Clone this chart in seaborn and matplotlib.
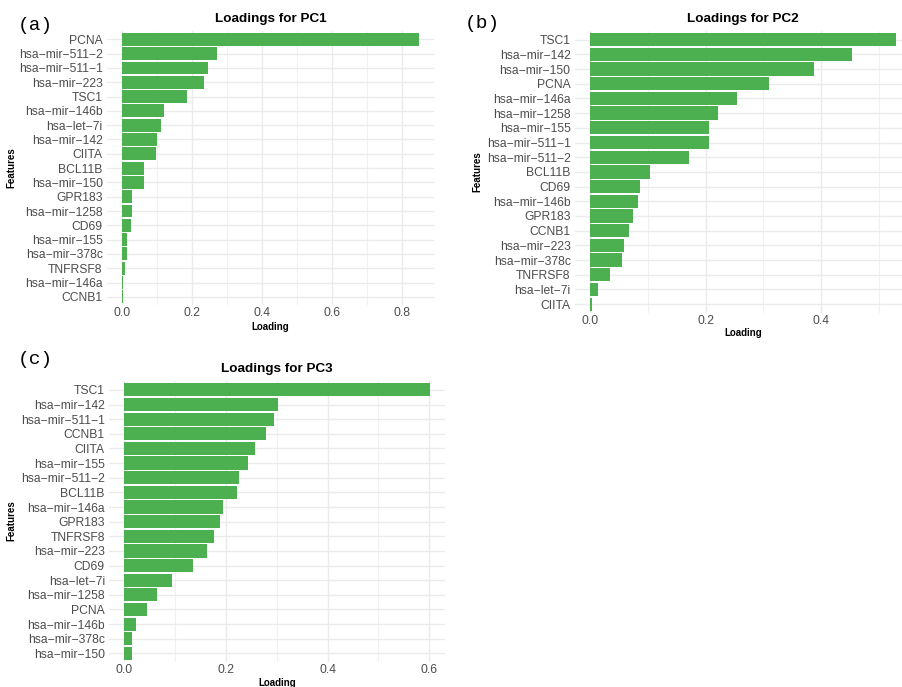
import matplotlib
matplotlib.use("Agg")
import matplotlib.pyplot as plt
import seaborn as sns
import pandas as pd
import numpy as np

# ---------------- data ----------------
pc1_features = ["PCNA", "hsa-mir-511-2", "hsa-mir-511-1", "hsa-mir-223", "TSC1",
                "hsa-mir-146b", "hsa-let-7i", "hsa-mir-142", "CIITA", "BCL11B",
                "hsa-mir-150", "GPR183", "hsa-mir-1258", "CD69", "hsa-mir-155",
                "hsa-mir-378c", "TNFRSF8", "hsa-mir-146a", "CCNB1"]
pc1_values = [0.850, 0.271, 0.248, 0.234, 0.186, 0.120, 0.113, 0.100, 0.098, 0.064,
              0.064, 0.030, 0.029, 0.027, 0.014, 0.014, 0.010, 0.004, 0.003]

pc2_features = ["TSC1", "hsa-mir-142", "hsa-mir-150", "PCNA", "hsa-mir-146a",
                "hsa-mir-1258", "hsa-mir-155", "hsa-mir-511-1", "hsa-mir-511-2",
                "BCL11B", "CD69", "hsa-mir-146b", "GPR183", "CCNB1", "hsa-mir-223",
                "hsa-mir-378c", "TNFRSF8", "hsa-let-7i", "CIITA"]
pc2_values = [0.529, 0.454, 0.387, 0.309, 0.254, 0.222, 0.206, 0.206, 0.172, 0.103,
              0.087, 0.083, 0.074, 0.067, 0.059, 0.055, 0.034, 0.014, 0.004]

pc3_features = ["TSC1", "hsa-mir-142", "hsa-mir-511-1", "CCNB1", "CIITA",
                "hsa-mir-155", "hsa-mir-511-2", "BCL11B", "hsa-mir-146a", "GPR183",
                "TNFRSF8", "hsa-mir-223", "CD69", "hsa-let-7i", "hsa-mir-1258",
                "PCNA", "hsa-mir-146b", "hsa-mir-378c", "hsa-mir-150"]
pc3_values = [0.602, 0.302, 0.294, 0.278, 0.257, 0.243, 0.225, 0.222, 0.195, 0.188,
              0.176, 0.162, 0.135, 0.093, 0.064, 0.045, 0.024, 0.015, 0.015]

titles = ["Loadings for PC1", "Loadings for PC2", "Loadings for PC3"]
panel_tags = ["(a)", "(b)", "(c)"]
major_ticks = [[0.0, 0.2, 0.4, 0.6, 0.8], [0.0, 0.2, 0.4], [0.0, 0.2, 0.4, 0.6]]
minor_ticks = [[0.1, 0.3, 0.5, 0.7], [0.1, 0.3, 0.5], [0.1, 0.3, 0.5]]

# ---------------- style ----------------
sns.set_theme(style="white")
plt.rcParams["font.family"] = ["Liberation Sans", "DejaVu Sans"]

W, H = 902, 687
fig = plt.figure(figsize=(W / 100, H / 100), dpi=100)
fig.patch.set_facecolor("white")

BAR = "#4CAF50"
TICKC = "#4D4D4D"

# panel rectangles in pixel coords: left, right, top, bottom, xlim
panels = [
    dict(l=106.8, r=434.1, t=30.8, b=305.4, xlim=(-0.0425, 0.8925)),
    dict(l=574.7, r=902.0, t=30.8, b=313.0, xlim=(-0.0265, 0.540)),
    dict(l=109.0, r=445.4, t=381.1, b=662.2, xlim=(-0.0301, 0.632)),
]
title_pos = [(270.5, 19), (743, 19), (277, 369)]
xlab_pos = [(270.5, 327), (743, 333), (277, 683)]
ylab_pos = [(11, 168), (477, 172), (11, 521)]
tag_pos = [(18, 25), (465, 24), (18, 359)]

datasets = [(pc1_features, pc1_values), (pc2_features, pc2_values),
            (pc3_features, pc3_values)]


def fx(px):
    return px / W


def fy(py):
    return 1 - py / H


for i, (feats, vals) in enumerate(datasets):
    p = panels[i]
    ax = fig.add_axes([fx(p["l"]), fy(p["b"]), (p["r"] - p["l"]) / W,
                       (p["b"] - p["t"]) / H])
    df = pd.DataFrame({"Feature": [f.replace("-", "\u2212") for f in feats],
                       "Loading": vals})
    sns.barplot(data=df, x="Loading", y="Feature", orient="h", color=BAR,
                saturation=1, width=0.9, ax=ax, zorder=3, linewidth=0,
                edgecolor=BAR)
    ax.set_xlim(*p["xlim"])
    ax.set_ylim(len(feats) - 1 + 0.6, -0.6)
    ax.set_xticks(major_ticks[i])
    ax.set_xticks(minor_ticks[i], minor=True)
    ax.set_xticklabels([f"{t:.1f}" for t in major_ticks[i]])
    ax.grid(True, which="major", axis="both", color="#EBEBEB", lw=1.0, zorder=0)
    ax.grid(True, which="minor", axis="x", color="#F1F1F1", lw=0.8, zorder=0)
    ax.set_axisbelow(True)
    for s in ax.spines.values():
        s.set_visible(False)
    ax.tick_params(axis="both", which="both", length=0, labelsize=8.7,
                   labelcolor=TICKC)
    ax.tick_params(axis="x", pad=1.5)
    ax.tick_params(axis="y", pad=3)
    ax.set_xlabel("")
    ax.set_ylabel("")
    ax.set_facecolor("white")

    tx, ty = title_pos[i]
    fig.text(fx(tx), fy(ty), titles[i], ha="center", va="center",
             fontsize=9.7, fontweight="bold", color="black")
    lx, ly = xlab_pos[i]
    fig.text(fx(lx), fy(ly), "Loading", ha="center", va="center",
             fontsize=7, fontweight="bold", color="black")
    yx, yy = ylab_pos[i]
    fig.text(fx(yx), fy(yy), "Features", ha="center", va="center",
             rotation=90, fontsize=7, fontweight="bold", color="black")
    gx, gy = tag_pos[i]
    fig.text(fx(gx), fy(gy), panel_tags[i], ha="left", va="center",
             fontsize=14, family=["Liberation Mono", "DejaVu Sans Mono"],
             color="black")

fig.savefig("out.png", dpi=100, facecolor="white")
